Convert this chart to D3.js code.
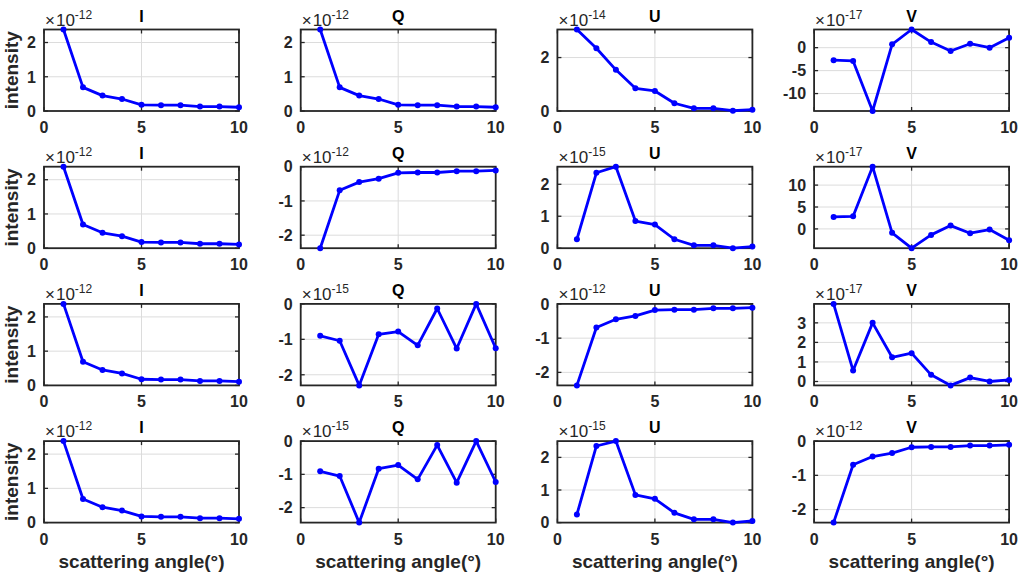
<!DOCTYPE html>
<html>
<head>
<meta charset="utf-8">
<script src="https://cdn.jsdelivr.net/npm/d3@7"></script>
<style>
  body { margin: 0; background: #fff; }
  text { font-family: "Liberation Sans", Arial, sans-serif; }
</style>
</head>
<body>
<div id="chart"></div>
<script>
// scattering angles (deg)
const angles = [1, 2, 3, 4, 5, 6, 7, 8, 9, 10];
const stokesNames = ["I", "Q", "U", "V"];
const xTicks = [0, 5, 10];

// values in units of 10^exponent
const intensityI = [2.38, 0.69, 0.45, 0.35, 0.18, 0.17, 0.17, 0.13, 0.13, 0.11];
const negIntensity = [-2.38, -0.69, -0.45, -0.35, -0.18, -0.17, -0.17, -0.13, -0.13, -0.11];
const row1U = [3.05, 2.35, 1.54, 0.85, 0.75, 0.29, 0.10, 0.10, 0.01, 0.05];
const row1V = [-2.73, -2.88, -13.8, 0.72, 3.96, 1.22, -0.72, 0.86, 0.0, 2.16];
const row2U = [0.28, 2.36, 2.55, 0.85, 0.74, 0.28, 0.09, 0.09, 0.0, 0.05];
const row2V = [2.73, 2.88, 14.2, -0.9, -4.4, -1.36, 0.76, -0.98, -0.15, -2.58];
const row3Q = [-0.9, -1.04, -2.3, -0.86, -0.78, -1.17, -0.13, -1.26, 0.0, -1.25];
const row3V = [3.97, 0.56, 3.0, 1.24, 1.45, 0.34, -0.2, 0.2, 0.0, 0.08];
const row4Q = [-0.91, -1.05, -2.45, -0.83, -0.72, -1.15, -0.12, -1.25, 0.0, -1.23];
const row4U = [0.25, 2.35, 2.5, 0.85, 0.73, 0.3, 0.1, 0.1, 0.0, 0.05];

const panelValues = [
  [intensityI, intensityI, row1U, row1V],
  [intensityI, negIntensity, row2U, row2V],
  [intensityI, row3Q, negIntensity, row3V],
  [intensityI, row4Q, row4U, negIntensity]
];
const panelExponents = [
  [-12, -12, -14, -17],
  [-12, -12, -15, -17],
  [-12, -15, -12, -17],
  [-12, -15, -15, -12]
];
const panelYTicks = [
  [[0, 1, 2], [0, 1, 2], [0, 2], [-10, -5, 0]],
  [[0, 1, 2], [-2, -1, 0], [0, 1, 2], [0, 5, 10]],
  [[0, 1, 2], [-2, -1, 0], [-2, -1, 0], [0, 1, 2, 3]],
  [[0, 1, 2], [-2, -1, 0], [0, 1, 2], [-2, -1, 0]]
];

const width = 1027;
const height = 573;
const left0 = 44, colStep = 256.7, plotW = 195;
const top0 = 29.5, rowStep = 137.2, plotH = 81.5;
const axisColor = "#262626";

const svg = d3.select("#chart")
    .append("svg")
    .attr("width", width)
    .attr("height", height);

panelValues.forEach((row, r) => {
  row.forEach((vals, c) => {
    const x0 = left0 + c * colStep;
    const y0 = top0 + r * rowStep;
    const g = svg.append("g").attr("transform", `translate(${x0},${y0})`);

    const xScale = d3.scaleLinear().domain([0, 10]).range([0, plotW]);
    const yScale = d3.scaleLinear()
        .domain([Math.min(0, d3.min(vals)), Math.max(0, d3.max(vals))])
        .range([plotH, 0]);
    const yTicks = panelYTicks[r][c];

    // grid
    g.selectAll(".gx").data(xTicks).enter().append("line")
        .attr("x1", d => xScale(d)).attr("x2", d => xScale(d))
        .attr("y1", 0).attr("y2", plotH)
        .attr("stroke", "#dcdcdc").attr("stroke-width", 1);
    g.selectAll(".gy").data(yTicks).enter().append("line")
        .attr("x1", 0).attr("x2", plotW)
        .attr("y1", d => yScale(d)).attr("y2", d => yScale(d))
        .attr("stroke", "#dcdcdc").attr("stroke-width", 1);

    // axes box
    g.append("rect")
        .attr("width", plotW).attr("height", plotH)
        .attr("fill", "none")
        .attr("stroke", axisColor).attr("stroke-width", 1.8);

    // inward ticks on all four sides
    const tl = 4;
    xTicks.forEach(t => {
      g.append("line").attr("x1", xScale(t)).attr("x2", xScale(t))
          .attr("y1", plotH).attr("y2", plotH - tl).attr("stroke", axisColor).attr("stroke-width", 1.3);
      g.append("line").attr("x1", xScale(t)).attr("x2", xScale(t))
          .attr("y1", 0).attr("y2", tl).attr("stroke", axisColor).attr("stroke-width", 1.3);
    });
    yTicks.forEach(t => {
      g.append("line").attr("x1", 0).attr("x2", tl)
          .attr("y1", yScale(t)).attr("y2", yScale(t)).attr("stroke", axisColor).attr("stroke-width", 1.3);
      g.append("line").attr("x1", plotW).attr("x2", plotW - tl)
          .attr("y1", yScale(t)).attr("y2", yScale(t)).attr("stroke", axisColor).attr("stroke-width", 1.3);
    });

    // tick labels
    g.selectAll(".xl").data(xTicks).enter().append("text")
        .attr("x", d => xScale(d))
        .attr("y", plotH + 22)
        .attr("text-anchor", "middle")
        .style("font-size", "16px")
        .style("font-weight", "bold")
        .style("fill", axisColor)
        .text(d => String(d));
    g.selectAll(".yl").data(yTicks).enter().append("text")
        .attr("x", -8)
        .attr("y", d => yScale(d))
        .attr("dy", "0.36em")
        .attr("text-anchor", "end")
        .style("font-size", "16px")
        .style("font-weight", "bold")
        .style("fill", axisColor)
        .text(d => String(d));

    // exponent label
    const ex = g.append("text")
        .attr("x", 1)
        .attr("y", -4)
        .style("fill", axisColor);
    ex.append("tspan").style("font-size", "17px").text("\u00d7");
    ex.append("tspan").attr("dx", 1).style("font-size", "17px").text("10");
    ex.append("tspan").attr("dy", -7).style("font-size", "12px").text(String(panelExponents[r][c]));

    // title
    g.append("text")
        .attr("x", plotW / 2)
        .attr("y", -8)
        .attr("text-anchor", "middle")
        .style("font-size", "16px")
        .style("font-weight", "bold")
        .style("fill", "#000")
        .text(stokesNames[c]);

    // data line + markers
    const pts = angles.map((a, i) => [a, vals[i]]);
    g.append("path")
        .datum(pts)
        .attr("fill", "none")
        .attr("stroke", "#0000ff")
        .attr("stroke-width", 2.8)
        .attr("stroke-linejoin", "round")
        .attr("d", d3.line().x(d => xScale(d[0])).y(d => yScale(d[1])));
    g.selectAll(".pt").data(pts).enter().append("circle")
        .attr("cx", d => xScale(d[0]))
        .attr("cy", d => yScale(d[1]))
        .attr("r", 3)
        .attr("fill", "#0000ff");

    if (c === 0) {
      g.append("text")
          .attr("transform", `translate(${-26},${plotH / 2}) rotate(-90)`)
          .attr("text-anchor", "middle")
          .style("font-size", "19px")
          .style("font-weight", "bold")
          .style("fill", axisColor)
          .text("intensity");
    }
    if (r === 3) {
      g.append("text")
          .attr("x", plotW / 2)
          .attr("y", plotH + 45)
          .attr("text-anchor", "middle")
          .style("font-size", "19px")
          .style("font-weight", "bold")
          .style("fill", axisColor)
          .text("scattering angle(\u00b0)");
    }
  });
});
</script>
</body>
</html>
